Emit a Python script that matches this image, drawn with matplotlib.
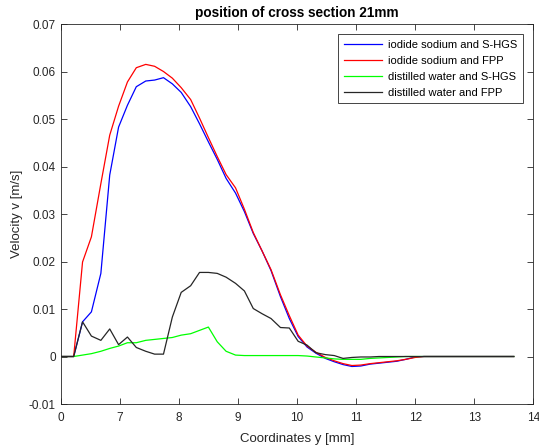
import matplotlib
matplotlib.use("Agg")
import matplotlib.pyplot as plt

plt.rcParams['font.family'] = ['Liberation Sans', 'DejaVu Sans']

# coordinates y [mm]
coord_y = [6.00, 6.22, 6.37, 6.52, 6.68, 6.83, 6.98, 7.13, 7.28, 7.44, 7.59, 7.74, 7.89, 8.04, 8.20,
           8.35, 8.50, 8.65, 8.80, 8.96, 9.11, 9.26, 9.41, 9.56, 9.72, 9.87, 10.02, 10.17, 10.32,
           10.48, 10.63, 10.78, 10.93, 11.08, 11.24, 11.39, 11.54, 11.69, 11.84, 12.00, 12.15,
           12.30, 12.45, 12.60, 12.76, 12.91, 13.06, 13.21, 13.36, 13.52, 13.67]

nai_shgs = [0, 0, 0.0073, 0.0094, 0.0175, 0.0382, 0.0483, 0.0529, 0.0568, 0.0580, 0.0582, 0.0587,
            0.0574, 0.0556, 0.0526, 0.0490, 0.0452, 0.0415, 0.0375, 0.0344, 0.0305, 0.0259,
            0.0222, 0.0181, 0.0126, 0.0080, 0.0042, 0.0020, 0.0007, -0.0004, -0.0011, -0.0017,
            -0.0021, -0.0020, -0.0016, -0.0014, -0.0012, -0.0010, -0.0006, -0.0001, 0,
            0, 0, 0, 0, 0, 0, 0, 0, 0, 0]

nai_fpp = [0, 0, 0.0199, 0.0252, 0.0364, 0.0466, 0.0527, 0.0578, 0.0608, 0.0615, 0.0611, 0.0600,
           0.0586, 0.0566, 0.0541, 0.0502, 0.0461, 0.0421, 0.0383, 0.0355, 0.0310, 0.0261,
           0.0222, 0.0183, 0.0130, 0.0086, 0.0045, 0.0022, 0.0009, -0.0002, -0.0009, -0.0015,
           -0.0019, -0.0018, -0.0015, -0.0013, -0.0011, -0.0009, -0.0006, -0.0002, 0,
           0, 0, 0, 0, 0, 0, 0, 0, 0, 0]

water_shgs = [0, 0, 0.0003, 0.0006, 0.0011, 0.0017, 0.0022, 0.0029, 0.0029, 0.0034, 0.0036, 0.0038,
              0.0040, 0.0045, 0.0048, 0.0055, 0.0062, 0.0031, 0.0011, 0.0003, 0.0002, 0.0002,
              0.0002, 0.0002, 0.0002, 0.0002, 0.0002, 0.0001, -0.0001, -0.0003, -0.0005, -0.0006,
              -0.0006, -0.0006, -0.0004, -0.0003, -0.0002, -0.0001, 0, 0, 0,
              0, 0, 0, 0, 0, 0, 0, 0, 0, 0]

water_fpp = [0, 0, 0.0073, 0.0043, 0.0034, 0.0058, 0.0025, 0.0041, 0.0019, 0.0011, 0.0005, 0.0005,
             0.0083, 0.0135, 0.0149, 0.0177, 0.0177, 0.0175, 0.0167, 0.0154, 0.0138, 0.0101,
             0.0090, 0.0080, 0.0061, 0.0060, 0.0032, 0.0024, 0.0008, 0.0004, 0.0002, -0.0004,
             -0.0002, -0.0001, -0.0001, 0, 0, 0, 0, 0, 0,
             0, 0, 0, 0, 0, 0, 0, 0, 0, 0]

x_ticks = [6, 7, 8, 9, 10, 11, 12, 13, 14]
x_tick_labels = ["0", "7", "8", "9", "10", "11", "12", "13", "14"]
y_ticks = [-0.01, 0, 0.01, 0.02, 0.03, 0.04, 0.05, 0.06, 0.07]
y_tick_labels = ["-0.01", "0", "0.01", "0.02", "0.03", "0.04", "0.05", "0.06", "0.07"]

fig = plt.figure(figsize=(5.39, 4.48), dpi=100)
ax = fig.add_axes([0.1126, 0.0982, 0.8768, 0.8482])

ax.plot(coord_y, nai_shgs, color=(0, 0, 1), lw=0.9, label="iodide sodium and S-HGS")
ax.plot(coord_y, nai_fpp, color=(1, 0, 0), lw=0.9, label="iodide sodium and FPP")
ax.plot(coord_y, water_shgs, color=(0, 1, 0), lw=0.9, label="distilled water and S-HGS")
ax.plot(coord_y, water_fpp, color=(0.15, 0.15, 0.15), lw=0.9, label="distilled water and FPP")

ax.set_xlim(6, 14)
ax.set_ylim(-0.01, 0.07)
ax.set_xticks(x_ticks)
ax.set_xticklabels(x_tick_labels)
ax.set_yticks(y_ticks)
ax.set_yticklabels(y_tick_labels)

gray = (0.15, 0.15, 0.15)
ax.tick_params(direction="in", top=True, right=True, length=4, width=0.6,
               labelsize=8.5, colors=gray, labelcolor=gray)
ax.tick_params(axis="x", pad=6)
for sp in ax.spines.values():
  sp.set_color(gray)
  sp.set_linewidth(0.6)

ax.set_title("position of cross section 21mm", fontsize=9.8, fontweight="bold", pad=5)
ax.set_xlabel("Coordinates y [mm]", fontsize=9.5, color=gray, labelpad=6)
ax.set_ylabel("Velocity v [m/s]", fontsize=9.5, color=gray, labelpad=4)

leg = ax.legend(loc="upper right", fontsize=8, fancybox=False, framealpha=1,
                edgecolor=gray, handlelength=3.4, borderaxespad=0.9,
                labelspacing=0.55, handletextpad=0.6, borderpad=0.5)
leg.get_frame().set_linewidth(0.6)

fig.savefig("out.png", dpi=100)
